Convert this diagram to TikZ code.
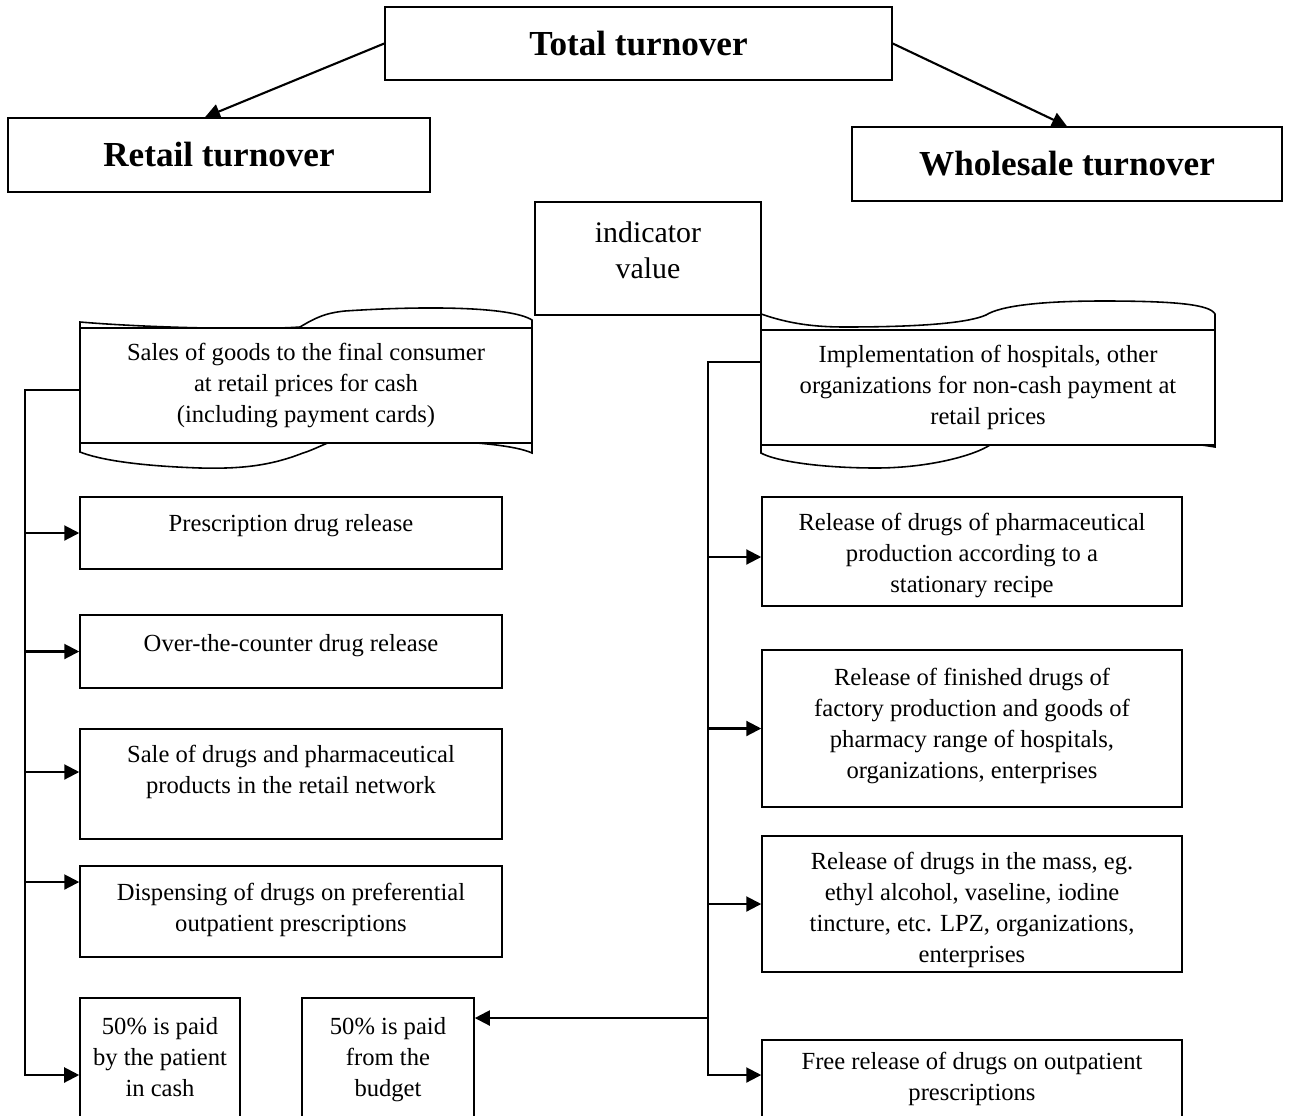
\documentclass[tikz,border=0pt]{standalone}
\usepackage{fontspec}
\setmainfont{Liberation Serif}
\usetikzlibrary{positioning,arrows.meta}
\tikzset{
  box/.style={draw, line width=0.9pt, fill=white, inner sep=0pt},
  txt/.style={align=center, inner sep=0pt, font=\fontsize{14}{17.5}\selectfont},
  head/.style={font=\fontsize{20}{24}\selectfont\bfseries},
  arr/.style={line width=1.2pt, -{Triangle[length=3mm,width=3mm]}},
}
\begin{document}
\begin{tikzpicture}[x=0.02cm, y=-0.02cm]
  \useasboundingbox (0,0) rectangle (1290,1115);

  % Top level boxes
  \node[box, head, minimum width=10.14cm, minimum height=1.46cm] (total) at (638.5,43.5) {Total turnover};
  \node[box, head, minimum width=8.44cm, minimum height=1.48cm] (retail) at (219,155) {Retail turnover};
  \node[box, head, minimum width=8.6cm, minimum height=1.48cm] (whole) at (1067,164) {Wholesale turnover};
  \draw[arr] (total.west) -- ([xshift=-0.28cm]retail.north);
  \draw[arr] (total.east) -- (whole.north);

  % Indicator box, text at the top
  \node[box, minimum width=4.52cm, minimum height=2.26cm] (ind) at (648,258.5) {};
  \node[txt, font=\fontsize{17}{20.5}\selectfont, below=0.4cm of ind.north] (ind-t) {indicator\\value};

  % Scroll-like shapes behind the two main boxes
  \draw[box] (80,322) .. controls (150,328) and (260,330) .. (300,327)
    .. controls (315,318) and (325,313) .. (345,311) .. controls (420,306) and (510,306) .. (532,320)
    -- (532,453) .. controls (500,438) and (360,438) .. (330,442)
    .. controls (318,447) and (310,451) .. (303,453) .. controls (270,466) and (240,469) .. (200,468)
    .. controls (140,466) and (100,460) .. (80,452) -- cycle;
  \draw[box] (761,314) .. controls (790,324) and (815,327) .. (845,327)
    .. controls (930,327) and (970,322) .. (986,315) .. controls (1000,306) and (1040,301) .. (1103,301)
    .. controls (1180,301) and (1210,305) .. (1215,314)
    -- (1215,447) .. controls (1150,436) and (1010,436) .. (990,445)
    .. controls (975,455) and (930,468) .. (876,468) .. controls (820,468) and (775,461) .. (761,453) -- cycle;
  \node[box, txt, minimum width=9.04cm, minimum height=2.3cm] (sales) at (306,385.5)
    {Sales of goods to the final consumer\\at retail prices for cash\\(including payment cards)};
  \node[box, txt, minimum width=9.08cm, minimum height=2.3cm] (impl) at (988,387.5)
    {Implementation of hospitals, other\\organizations for non-cash payment at\\retail prices};

  % Retail column
  \node[box, minimum width=8.44cm, minimum height=1.44cm] (presc) at (291,533) {};
  \node[txt, below=0.36cm of presc.north] (presc-t) {Prescription drug release};
  \node[box, minimum width=8.44cm, minimum height=1.46cm] (otc) at (291,651.5) {};
  \node[txt, below=0.4cm of otc.north] (otc-t) {Over-the-counter drug release};
  \node[box, minimum width=8.44cm, minimum height=2.2cm] (salenet) at (291,784) {};
  \node[txt, below=0.34cm of salenet.north] (salenet-t) {Sale of drugs and pharmaceutical\\products in the retail network};
  \node[box, minimum width=8.44cm, minimum height=1.82cm] (disp) at (291,911.5) {};
  \node[txt, below=0.36cm of disp.north] (disp-t) {Dispensing of drugs on preferential\\outpatient prescriptions};
  \node[box, minimum width=3.2cm, minimum height=2.54cm] (patient) at (160,1061.5) {};
  \node[txt, below=0.4cm of patient.north] (patient-t) {50\% is paid\\by the patient\\in cash};
  \node[box, minimum width=3.44cm, minimum height=2.54cm] (budget) at (388,1061.5) {};
  \node[txt, below=0.4cm of budget.north] (budget-t) {50\% is paid\\from the\\budget};

  % Wholesale column
  \node[box, minimum width=8.4cm, minimum height=2.18cm] (pharm) at (972,551.5) {};
  \node[txt, below=0.34cm of pharm.north] (pharm-t) {Release of drugs of pharmaceutical\\production according to a\\stationary recipe};
  \node[box, minimum width=8.4cm, minimum height=3.14cm] (finished) at (972,728.5) {};
  \node[txt, below=0.38cm of finished.north] (finished-t) {Release of finished drugs of\\factory production and goods of\\pharmacy range of hospitals,\\organizations, enterprises};
  \node[box, minimum width=8.4cm, minimum height=2.72cm] (mass) at (972,904) {};
  \node[txt, below=0.34cm of mass.north] (mass-t) {Release of drugs in the mass, eg.\\ethyl alcohol, vaseline, iodine\\tincture, etc. LPZ, organizations,\\enterprises};
  \node[box, minimum width=8.4cm, minimum height=1.7cm] (free) at (972,1082.5) {};
  \node[txt, below=0.25cm of free.north] (free-t) {Free release of drugs on outpatient\\prescriptions};

  % Bus lines and where they meet the boxes
  \coordinate (lbus) at (25,0);
  \coordinate (rbus) at (708,0);
  \coordinate (sales-out) at ([yshift=-0.09cm]sales.west);
  \coordinate (impl-out) at ([yshift=0.51cm]impl.west);
  \coordinate (salenet-in) at ([yshift=0.24cm]salenet.west);
  \coordinate (disp-in) at ([yshift=0.59cm]disp.west);
  \coordinate (patient-in) at ([yshift=-0.27cm]patient.west);
  \coordinate (pharm-in) at ([yshift=-0.11cm]pharm.west);
  \coordinate (free-in) at ([yshift=0.15cm]free.west);
  \coordinate (budget-in) at ([yshift=0.87cm]budget.east);

  \draw[arr] (sales-out) -| (lbus |- patient-in) -- (patient-in); % left trunk
  \foreach \n in {presc.west, otc.west, salenet-in, disp-in} {
    \draw[arr] (lbus |- \n) -- (\n);
  }
  \draw[arr] (impl-out) -| (rbus |- free-in) -- (free-in); % right trunk
  \foreach \n in {pharm-in, finished.west, mass.west} {
    \draw[arr] (rbus |- \n) -- (\n);
  }
  \draw[arr] (rbus |- budget-in) -- (budget-in);
\end{tikzpicture}
\end{document}
